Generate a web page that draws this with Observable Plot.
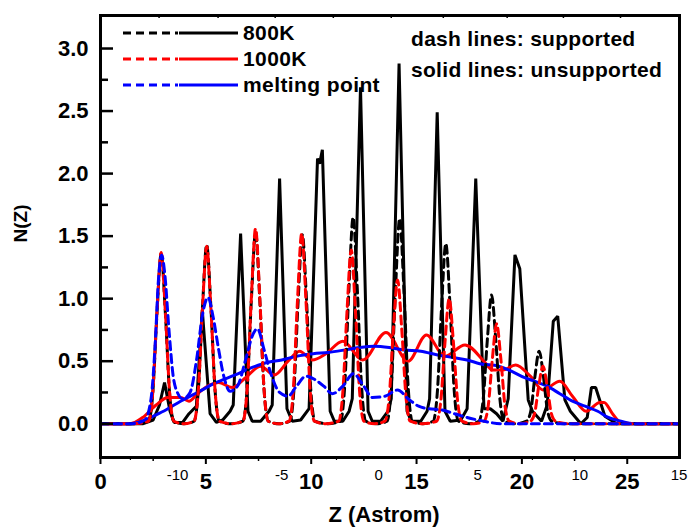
<!DOCTYPE html>
<html>
<head>
<meta charset="utf-8">
<script src="https://cdn.jsdelivr.net/npm/d3@7"></script>
<script src="https://cdn.jsdelivr.net/npm/@observablehq/plot@0.6"></script>
<style>
  html, body { margin: 0; padding: 0; background: #fff; }
  #wrap { position: relative; width: 689px; height: 531px; font-family: "Liberation Sans", Arial, sans-serif; }
  #overlay { position: absolute; left: 0; top: 0; pointer-events: none; }
</style>
</head>
<body>
<div id="wrap"></div>
<script>
// ---------- data ----------
// 800K supported (dashed black)
const s800supX = [0,1.5,2.28,2.48,2.68,2.88,3.08,3.28,3.48,3.96,4.44,4.64,4.84,5.04,5.24,5.44,5.64,6.2,6.76,6.96,7.16,7.36,7.56,7.76,7.96,8.47,8.98,9.18,9.38,9.58,9.78,9.98,10.18,10.8,11.39,11.59,11.79,11.99,12.19,12.39,12.59,13.1,13.6,13.8,14.0,14.2,14.4,14.6,14.8,15.3,15.79,15.99,16.19,16.39,16.59,16.79,16.99,17.5,17.96,18.16,18.36,18.56,18.76,18.96,19.16,19.7,20.22,20.42,20.62,20.82,21.02,21.22,21.42,22.0,27.48];
const s800supY = [0,0,0.02,0.24,0.88,1.36,0.88,0.24,0.02,0,0.02,0.26,0.93,1.43,0.93,0.26,0.02,0,0.02,0.28,0.99,1.53,0.99,0.28,0.02,0,0.02,0.27,0.98,1.51,0.98,0.27,0.02,0,0.02,0.3,1.07,1.65,1.07,0.3,0.02,0,0.02,0.3,1.07,1.64,1.07,0.3,0.02,0,0.02,0.26,0.94,1.44,0.94,0.26,0.02,0,0.02,0.19,0.67,1.03,0.67,0.19,0.02,0,0.02,0.1,0.38,0.58,0.38,0.1,0.02,0,0];
// 1000K supported (dashed red)
const s1000supX = [0,1.5,2.28,2.48,2.68,2.88,3.08,3.28,3.48,3.96,4.44,4.64,4.84,5.04,5.24,5.44,5.64,6.2,6.76,6.96,7.16,7.36,7.56,7.76,7.96,8.45,8.95,9.15,9.35,9.55,9.75,9.95,10.15,10.7,11.3,11.5,11.7,11.9,12.1,12.3,12.5,13.0,13.5,13.7,13.9,14.1,14.3,14.5,14.7,15.3,15.95,16.15,16.35,16.55,16.75,16.95,17.15,17.7,18.2,18.4,18.6,18.8,19.0,19.2,19.4,19.9,20.4,20.6,20.8,21.0,21.2,21.4,21.6,22.2,27.48];
const s1000supY = [0,0,0.02,0.25,0.89,1.37,0.89,0.25,0.02,0,0.02,0.26,0.92,1.42,0.92,0.26,0.02,0,0.02,0.28,1.01,1.56,1.01,0.28,0.02,0,0.02,0.27,0.99,1.52,0.99,0.27,0.02,0,0.02,0.25,0.9,1.39,0.9,0.25,0.02,0,0.02,0.21,0.75,1.15,0.75,0.21,0.02,0,0.02,0.18,0.65,1.0,0.65,0.18,0.02,0,0.02,0.14,0.52,0.8,0.52,0.14,0.02,0,0.02,0.08,0.3,0.46,0.3,0.08,0.02,0,0];
// melting point supported (dashed blue)
const smeltSupX = [0,1.5,2.1,2.4,2.6,2.75,2.9,3.05,3.25,3.45,3.65,3.9,4.25,4.55,4.85,5.1,5.35,5.6,5.85,6.15,6.5,6.9,7.2,7.45,7.75,8.05,8.5,8.9,9.3,9.75,10.2,10.6,11.0,11.5,12.0,12.5,12.9,13.5,14.1,14.6,15.1,15.6,16.2,16.8,17.4,18.2,19.0,27.48];
const smeltSupY = [0,0,0.03,0.2,0.65,1.15,1.35,1.2,0.75,0.38,0.25,0.2,0.25,0.5,0.88,1.01,0.85,0.6,0.38,0.26,0.3,0.52,0.7,0.76,0.6,0.42,0.25,0.22,0.3,0.38,0.35,0.3,0.24,0.3,0.4,0.3,0.21,0.22,0.27,0.2,0.14,0.12,0.11,0.08,0.05,0.02,0,0];
// 800K unsupported (solid black)
const s800unX = [0,2.0,2.5,2.8,3.04,3.3,3.5,3.9,4.2,4.55,4.83,5.2,5.5,5.8,6.15,6.3,6.65,7.0,7.2,7.6,8.0,8.15,8.5,8.85,9.1,9.5,9.9,10.3,10.4,10.53,10.9,11.1,11.5,11.8,11.95,12.34,12.7,12.9,13.3,13.65,13.8,14.17,14.55,14.75,15.2,15.5,15.62,15.98,16.35,16.6,17.1,17.4,17.81,18.2,18.5,18.8,19.1,19.35,19.67,19.9,20.3,20.5,20.93,21.2,21.49,21.7,22.04,22.3,22.8,23.1,23.3,23.5,23.94,24.5,27.48];
const s800unY = [0,0,0.03,0.15,0.33,0.1,0.01,0.01,0.08,0.14,0.91,0.08,0.01,0.03,0.1,0.15,1.52,0.1,0.02,0.02,0.1,0.15,1.96,0.12,0.02,0.03,0.12,2.12,2.08,2.19,0.1,0.02,0.02,0.1,0.2,2.69,0.1,0.02,0.02,0.1,0.2,2.88,0.1,0.02,0.02,0.1,0.2,2.49,0.1,0.02,0.03,0.12,1.96,0.12,0.12,0.08,0.02,0.2,1.35,1.24,0.19,0.1,0.02,0.15,0.82,0.86,0.19,0.1,0.0,0.05,0.29,0.29,0.06,0,0];
// 1000K unsupported (solid red)
const s1000unX = [0,1.4,2.0,2.64,3.2,3.8,4.2,4.6,5.2,5.6,6.25,6.9,7.6,8.25,8.9,9.45,10.05,10.7,11.5,12.45,13.55,14.6,15.47,16.34,17.3,18.2,18.6,19.1,19.7,20.4,21.0,21.8,22.4,23.05,23.7,23.9,24.3,24.7,25.5,27.48];
const s1000unY = [0,0,0.05,0.15,0.21,0.21,0.18,0.24,0.31,0.33,0.29,0.37,0.46,0.39,0.5,0.58,0.51,0.56,0.66,0.51,0.73,0.5,0.71,0.54,0.63,0.5,0.43,0.43,0.47,0.38,0.27,0.34,0.22,0.1,0.17,0.17,0.08,0.01,0,0];
// melting point unsupported (solid blue)
const smeltUnX = [0,1.4,2.0,2.5,3.1,3.8,4.6,5.5,6.4,7.2,7.9,8.6,9.3,10.1,10.8,11.6,12.3,13.0,13.7,14.4,15.2,16.0,16.7,17.4,18.0,18.9,19.5,20.1,20.6,21.2,21.8,22.4,23.0,23.6,24.1,24.7,25.3,27.48];
const smeltUnY = [0,0,0.02,0.06,0.11,0.18,0.25,0.33,0.39,0.45,0.49,0.51,0.54,0.56,0.57,0.59,0.61,0.62,0.61,0.59,0.58,0.55,0.53,0.51,0.48,0.46,0.42,0.37,0.34,0.3,0.24,0.18,0.14,0.1,0.05,0.02,0,0];

// axes / ticks
const xMajor = [0, 5, 10, 15, 20, 25];
const xMinor = [2.5, 7.5, 12.5, 17.5, 22.5];
const xSecondaryTicks = [1.42, 6.2, 11.2, 15.7, 20.5];
const secLabels = ["-10", "-5", "0", "5", "10", "15"];
const secPos = [3.66, 8.6, 13.2, 17.9, 22.75, 27.46];
const topTicks = [2.78, 5.58, 8.29, 11.05, 13.8, 16.27, 19.3, 21.97, 24.68];
const yMajor = [0, 0.5, 1, 1.5, 2, 2.5, 3];
const yMinor = [0.25, 0.75, 1.25, 1.75, 2.25, 2.75];

const legendNames = ["800K", "1000K", "melting point"];
const legendColors = ["#000000", "#ff0000", "#0000ff"];
const noteLines = ["dash lines: supported", "solid lines: unsupported"];

// ---------- build ----------
const FONT = "'Liberation Sans', Arial, sans-serif";
const W = 689, H = 531, ML = 100, MR = 10, MT = 15, MB = 74;
const innerW = W - ML - MR, innerH = H - MT - MB;
const pts = (xs, ys) => xs.map((x, i) => ({x, y: ys[i]}));
const DASH = "8,5";
const LW = 3;

const chart = Plot.plot({
  width: W, height: H,
  marginLeft: ML, marginRight: MR, marginTop: MT, marginBottom: MB,
  x: {domain: [0, 27.48]},
  y: {domain: [-0.27, 3.264]},
  style: {fontFamily: FONT, background: "#fff", color: "#000"},
  marks: [
    Plot.line(pts(s800unX, s800unY), {x: "x", y: "y", stroke: legendColors[0], strokeWidth: LW, strokeLinejoin: "miter"}),
    Plot.line(pts(s1000unX, s1000unY), {x: "x", y: "y", stroke: legendColors[1], strokeWidth: LW, curve: "monotone-x"}),
    Plot.line(pts(smeltUnX, smeltUnY), {x: "x", y: "y", stroke: legendColors[2], strokeWidth: LW, curve: "monotone-x"}),
    Plot.line(pts(s800supX, s800supY), {x: "x", y: "y", stroke: legendColors[0], strokeWidth: LW, strokeDasharray: DASH, curve: "monotone-x"}),
    Plot.line(pts(s1000supX, s1000supY), {x: "x", y: "y", stroke: legendColors[1], strokeWidth: LW, strokeDasharray: DASH, strokeDashoffset: 6, curve: "monotone-x"}),
    Plot.line(pts(smeltSupX, smeltSupY), {x: "x", y: "y", stroke: legendColors[2], strokeWidth: LW, strokeDasharray: DASH, curve: "monotone-x"}),
    // inward y ticks
    Plot.tickY(yMajor, {y: d => d, insetRight: innerW - 13, strokeWidth: 2.5}),
    Plot.tickY(yMinor, {y: d => d, insetRight: innerW - 8, strokeWidth: 2.5}),
    // small top ticks
    Plot.tickX(topTicks, {x: d => d, insetBottom: innerH - 3, strokeWidth: 1.5}),
    Plot.axisY({ticks: yMajor, tickSize: 0, tickPadding: 12, tickFormat: d3.format(".1f"), fontSize: 22, fontWeight: "bold", label: null}),
    Plot.axisX({ticks: xMajor, tickSize: 7, tickPadding: 9, strokeWidth: 2, tickFormat: d => String(d), fontSize: 22, fontWeight: "bold", label: null}),
    Plot.axisX({ticks: xMinor, tickSize: 4, strokeWidth: 1.5, tickFormat: () => "", label: null}),
    Plot.axisX({ticks: xSecondaryTicks, tickSize: 3, strokeWidth: 1.2, tickFormat: () => "", label: null}),
    Plot.text(secPos, {x: d => d, text: (d, i) => secLabels[i], frameAnchor: "bottom", dy: 18, fontSize: 15, lineAnchor: "middle", fill: "#000"}),
    Plot.text(["Z (Astrom)"], {frameAnchor: "bottom", dx: -6, dy: 57, fontSize: 22, fontWeight: "bold", lineAnchor: "middle"}),
    Plot.text(["N(Z)"], {frameAnchor: "left", dx: -80, dy: 6, rotate: -90, fontSize: 19, fontWeight: "bold", lineAnchor: "middle"}),
    Plot.frame({strokeWidth: 3})
  ]
});

const wrap = document.getElementById("wrap");
wrap.appendChild(chart);

// legend + note overlay
const ns = "http://www.w3.org/2000/svg";
const ov = document.createElementNS(ns, "svg");
ov.setAttribute("id", "overlay");
ov.setAttribute("width", W);
ov.setAttribute("height", H);
ov.style.fontFamily = FONT;
legendNames.forEach((name, i) => {
  const y = 33 + i * 26;
  const d = document.createElementNS(ns, "line");
  d.setAttribute("x1", 123); d.setAttribute("x2", 178); d.setAttribute("y1", y); d.setAttribute("y2", y);
  d.setAttribute("stroke", legendColors[i]); d.setAttribute("stroke-width", 3); d.setAttribute("stroke-dasharray", "8,5");
  ov.appendChild(d);
  const s = document.createElementNS(ns, "line");
  s.setAttribute("x1", 179); s.setAttribute("x2", 238); s.setAttribute("y1", y); s.setAttribute("y2", y);
  s.setAttribute("stroke", legendColors[i]); s.setAttribute("stroke-width", 3);
  ov.appendChild(s);
  const t = document.createElementNS(ns, "text");
  t.setAttribute("x", 243); t.setAttribute("y", y + 7);
  t.setAttribute("font-size", 21); t.setAttribute("font-weight", "bold");
  t.setAttribute("letter-spacing", "0.4");
  t.textContent = name;
  ov.appendChild(t);
});
noteLines.forEach((line, i) => {
  const t = document.createElementNS(ns, "text");
  t.setAttribute("x", 411); t.setAttribute("y", 46 + i * 31);
  t.setAttribute("font-size", 21); t.setAttribute("font-weight", "bold");
  t.setAttribute("letter-spacing", "0.3");
  t.textContent = line;
  ov.appendChild(t);
});
wrap.appendChild(ov);
</script>
</body>
</html>
